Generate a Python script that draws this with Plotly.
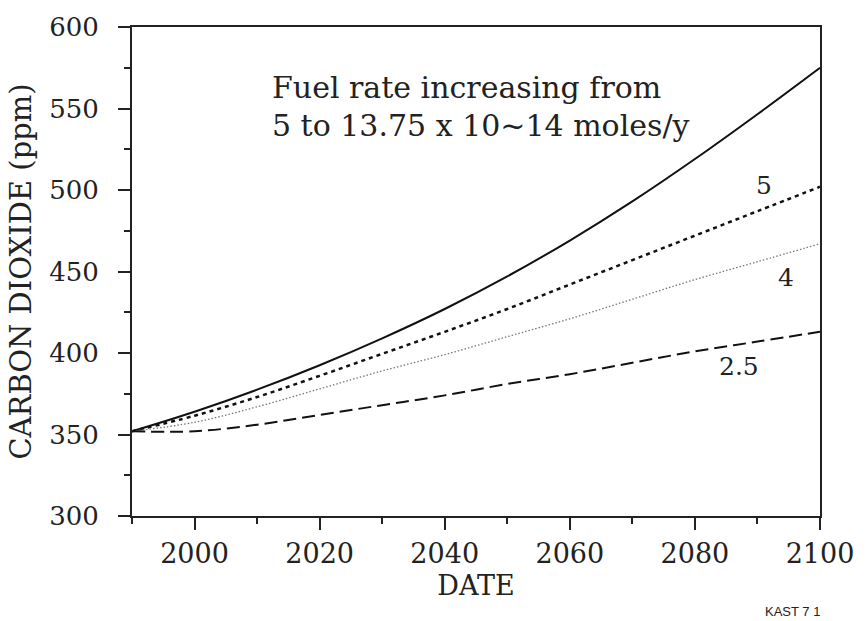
import plotly.graph_objects as go

years = [1990, 2000, 2010, 2020, 2030, 2040, 2050, 2060, 2070, 2080, 2090, 2100]
co2_increasing = [352, 364, 377.5, 392.5, 409, 427, 447, 469, 493, 519, 546.5, 575]
co2_rate5 = [352, 361.5, 373, 386, 399.5, 413, 427, 442, 457, 472, 487, 502]
co2_rate4 = [352, 357.5, 367, 378, 389, 399, 410, 421, 433, 445, 456, 467]
co2_rate25 = [352, 352, 356, 362, 368, 374, 381, 387, 394, 401, 407, 413]

curve_labels = ["5", "4", "2.5"]
curve_label_x = [2091.0, 2094.6, 2087.0]
curve_label_y = [502.5, 446.5, 391.5]

x_ticks = [2000, 2020, 2040, 2060, 2080, 2100]
y_ticks = [300, 350, 400, 450, 500, 550, 600]

SERIF = "DejaVu Serif"
INK = "#222"

fig = go.Figure()
fig.add_trace(go.Scatter(x=years, y=co2_increasing, mode="lines", line_shape="spline",
                         line=dict(color="#111", width=2, dash="solid"), name="increasing"))
fig.add_trace(go.Scatter(x=years, y=co2_rate5, mode="lines", line_shape="spline",
                         line=dict(color="#111", width=2.5, dash="4px,4px"), name="5"))
fig.add_trace(go.Scatter(x=years, y=co2_rate4, mode="lines", line_shape="spline",
                         line=dict(color="#777", width=1.3, dash="1.5px,2px"), name="4"))
fig.add_trace(go.Scatter(x=years, y=co2_rate25, mode="lines", line_shape="spline",
                         line=dict(color="#111", width=2, dash="13px,6px"), name="2.5"))

for t, x, y in zip(curve_labels, curve_label_x, curve_label_y):
    fig.add_annotation(x=x, y=y, text=t, showarrow=False, xanchor="center", yanchor="middle",
                       font=dict(family=SERIF, size=25, color=INK))

fig.add_annotation(x=2012.0, y=563, text="Fuel rate increasing from", showarrow=False,
                   xanchor="left", yanchor="middle", font=dict(family=SERIF, size=30, color=INK))
fig.add_annotation(x=2012.0, y=539.5, text="5 to 13.75 x 10~14 moles/y", showarrow=False,
                   xanchor="left", yanchor="middle", font=dict(family=SERIF, size=30, color=INK))

ML, MR, MT, MB = 132, 41, 20, 105
W, H = 866, 621
pw = W - ML - MR
ph = H - MT - MB
fig.add_annotation(x=(797.5 - ML) / pw, y=(H - MB - 612.5) / ph, xref="paper", yref="paper",
                   text="KAST 7 1", showarrow=False, xanchor="center", yanchor="middle",
                   font=dict(family="Liberation Sans", size=13, color=INK))

fig.update_layout(
    width=W, height=H,
    margin=dict(l=ML, r=MR, t=MT, b=MB),
    paper_bgcolor="white", plot_bgcolor="white",
    showlegend=False,
)

fig.update_xaxes(
    range=[1990, 2100], tickvals=x_ticks, ticks="outside", ticklen=12, tickwidth=1.5,
    tickcolor=INK, showline=True, linecolor=INK, linewidth=2, mirror=True,
    showgrid=False, zeroline=False, ticklabelstandoff=1,
    tickfont=dict(family=SERIF, size=27, color=INK),
    minor=dict(tickvals=[1990, 2010, 2030, 2050, 2070, 2090], ticks="outside", ticklen=6,
               tickwidth=1.5, tickcolor=INK, showgrid=False),
    title=dict(text="DATE", font=dict(family=SERIF, size=27, color=INK), standoff=8),
)
fig.update_yaxes(
    range=[300, 600], tickvals=y_ticks, ticks="outside", ticklen=12, tickwidth=1.5,
    tickcolor=INK, showline=True, linecolor=INK, linewidth=2, mirror=True,
    showgrid=False, zeroline=False, ticklabelstandoff=14,
    tickfont=dict(family=SERIF, size=26, color=INK),
    minor=dict(tickvals=[325, 375, 425, 475, 525, 575], ticks="outside", ticklen=6,
               tickwidth=1.5, tickcolor=INK, showgrid=False),
    title=dict(text="CARBON DIOXIDE (ppm)", font=dict(family=SERIF, size=29, color=INK), standoff=9),
)

fig.write_html("out.html")
